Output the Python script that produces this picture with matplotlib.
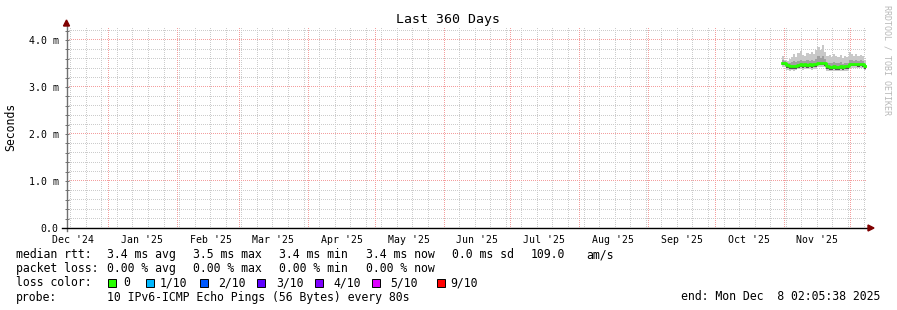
import matplotlib
matplotlib.use("Agg")
import matplotlib.pyplot as plt
import matplotlib.dates as mdates
from matplotlib.patches import Polygon, Rectangle
from datetime import datetime, timedelta
import numpy as np

# ==========================================
# 1. 資料 (ms)
# ==========================================
t_start = datetime(2024, 12, 13, 2, 5, 38)
t_end = datetime(2025, 12, 8, 2, 5, 38)
data_first_day = datetime(2025, 10, 31)

rtt_median = [3.52, 3.52, 3.46, 3.44, 3.45, 3.44, 3.45, 3.47, 3.48, 3.46,
              3.48, 3.47, 3.48, 3.46, 3.48, 3.48, 3.52, 3.52, 3.52, 3.51,
              3.44, 3.43, 3.43, 3.44, 3.43, 3.43, 3.44, 3.43, 3.44, 3.44,
              3.50, 3.50, 3.50, 3.50, 3.49, 3.50, 3.49, 3.45]
rtt_max = [3.66, 3.58, 3.56, 3.60, 3.64, 3.70, 3.64, 3.72, 3.76, 3.68,
           3.66, 3.72, 3.70, 3.74, 3.70, 3.78, 3.86, 3.78, 3.89, 3.74,
           3.66, 3.68, 3.64, 3.70, 3.66, 3.64, 3.68, 3.62, 3.66, 3.64,
           3.74, 3.70, 3.66, 3.70, 3.66, 3.68, 3.66, 3.58]
rtt_hi = [3.58, 3.56, 3.52, 3.52, 3.54, 3.56, 3.54, 3.56, 3.58, 3.55,
          3.56, 3.57, 3.56, 3.58, 3.56, 3.60, 3.66, 3.62, 3.66, 3.60,
          3.52, 3.52, 3.51, 3.53, 3.52, 3.51, 3.53, 3.50, 3.52, 3.52,
          3.58, 3.57, 3.56, 3.58, 3.55, 3.57, 3.55, 3.50]
rtt_lo = [3.46, 3.46, 3.40, 3.38, 3.39, 3.38, 3.39, 3.41, 3.42, 3.40,
          3.42, 3.41, 3.42, 3.40, 3.42, 3.42, 3.46, 3.46, 3.46, 3.45,
          3.38, 3.37, 3.37, 3.38, 3.37, 3.37, 3.38, 3.37, 3.38, 3.38,
          3.44, 3.44, 3.44, 3.44, 3.43, 3.44, 3.43, 3.39]
rtt_min = [3.43, 3.43, 3.37, 3.35, 3.36, 3.35, 3.36, 3.38, 3.39, 3.37,
           3.39, 3.38, 3.39, 3.37, 3.39, 3.39, 3.43, 3.43, 3.43, 3.42,
           3.35, 3.34, 3.34, 3.35, 3.34, 3.34, 3.35, 3.34, 3.35, 3.35,
           3.41, 3.41, 3.41, 3.41, 3.40, 3.41, 3.40, 3.36]

y_ticks = [0, 1, 2, 3, 4]
y_tick_labels = ["0.0", "1.0 m", "2.0 m", "3.0 m", "4.0 m"]

loss_labels = ["0", "1/10", "2/10", "3/10", "4/10", "5/10", "9/10"]
loss_colors = ["#26ff00", "#00b8ff", "#0059ff", "#5e00ff", "#7e00ff", "#dd00ff", "#ff0000"]

# ==========================================
# 2. 版面
# ==========================================
W, H = 897, 310
mono = "DejaVu Sans Mono"

def P(x, y):
    return (x / W, 1 - y / H)

fig = plt.figure(figsize=(W / 100, H / 100), dpi=100)
fig.patch.set_facecolor("white")
ax = fig.add_axes([66.5 / W, 82 / H, 800 / W, 200 / H])
ax.set_xlim(t_start, t_end)
ax.set_ylim(0, 200 / 47)
ax.set_zorder(2)
ax.patch.set_alpha(0)
for s in ax.spines.values():
    s.set_visible(False)

# ==========================================
# 3. 網格: 1px 點線, 以像素圖繪製
# ==========================================
c_grid = np.array([0.80, 0.80, 0.80, 1.0])
c_mgrid = np.array([0.96, 0.62, 0.62, 1.0])
months = [datetime(2025, m, 1) for m in range(1, 13)]
sundays = []
d = datetime(2024, 12, 15)
while d < t_end:
    if d not in months:
        sundays.append(d)
    d += timedelta(days=7)
minor_y = [i * 0.2 for i in range(1, 22) if i % 5 != 0]
major_y = [float(i) for i in range(1, 5)]

grid_img = np.zeros((H, W, 4))
x0_px, x1_px = 67, 866
top_px, bot_px = 28, 227
tr = ax.transData
def col_of(t):
    return int(tr.transform((mdates.date2num(t), 0))[0])
def row_of(v):
    return H - 1 - int(tr.transform((0, v))[1])
for y in minor_y:
    r = row_of(y)
    grid_img[r, x0_px:x1_px:2] = c_grid
for t in sundays:
    c = col_of(t)
    grid_img[top_px:bot_px:2, c] = c_grid
for y in major_y:
    r = row_of(y)
    grid_img[r, x0_px:x1_px:2] = c_mgrid
for t in months:
    c = col_of(t)
    grid_img[top_px:bot_px:2, c] = c_mgrid
fig.figimage(grid_img, xo=0, yo=0, origin="upper", zorder=1)

# smoke + median
days = [data_first_day + timedelta(days=i) for i in range(len(rtt_median) + 1)]
def ext(a):
    return a + [a[-1]]
ax.fill_between(days, ext(rtt_min), ext(rtt_max), step="post", color="#c8c8c8", lw=0, zorder=2)
ax.fill_between(days, ext(rtt_lo), ext(rtt_hi), step="post", color="#a0a0a0", lw=0, zorder=3)
ax.fill_between(days, ext(rtt_lo), ext(rtt_median), step="post", color="#555555", lw=0, zorder=4)
ax.step(days, ext(rtt_median), where="post", color="#26ff00", lw=2.0, zorder=5)

# ticks
ax.set_yticks(y_ticks)
ax.set_yticklabels(y_tick_labels, family=mono, fontsize=7.1)
ax.set_yticks([i * 0.2 for i in range(22)], minor=True)
ax.tick_params(axis="y", which="both", direction="inout", length=3, width=0.7,
               color="#707070", pad=4)
mid_months = [datetime(2024, 12, 16)] + [datetime(2025, m, 16) for m in range(1, 12)]
ax.set_xticks(mid_months)
ax.set_xticklabels([x.strftime("%b '%y") for x in mid_months], family=mono, fontsize=7.1)
ax.tick_params(axis="x", which="major", length=0, pad=5)

# axis lines + arrows
fig.add_artist(plt.Line2D(*zip(P(66.5, 231), P(66.5, 24)), color="#707070", lw=1.0,
                          transform=fig.transFigure, zorder=3))
fig.add_artist(plt.Line2D(*zip(P(62, 228), P(869, 228)), color="black", lw=1.0,
                          transform=fig.transFigure, zorder=3))
fig.add_artist(Polygon([P(63.5, 26), P(69.5, 26), P(66.5, 20)], closed=True,
                       color="#7f0000", transform=fig.transFigure, zorder=3))
fig.add_artist(Polygon([P(868, 225), P(868, 231), P(874, 228)], closed=True,
                       color="#7f0000", transform=fig.transFigure, zorder=3))

# texts
fig.text(*P(448, 19), "Last 360 Days", family=mono, fontsize=9.5, ha="center", va="center")
fig.text(*P(11, 127), "Seconds", family=mono, fontsize=8.3, ha="center", va="center", rotation=90)
fig.text(*P(887, 60), "RRDTOOL / TOBI OETIKER", family=mono, fontsize=6, color="#b8b8b8",
         ha="center", va="center", rotation=270)

fs = 8.3
def txt(x, y, s):
    fig.text(*P(x, y), s, family=mono, fontsize=fs, ha="left", va="center")

txt(16, 254.5, "median rtt:")
txt(107.3, 254.5, "3.4 ms avg")
txt(193.3, 254.5, "3.5 ms max")
txt(279.3, 254.5, "3.4 ms min")
txt(365.7, 254.5, "3.4 ms now")
txt(451.7, 254.5, "0.0 ms sd")
txt(530.7, 254.5, "109.0")
txt(586.7, 254.5, "am/s")

txt(16, 268.5, "packet loss:")
txt(107.3, 268.5, "0.00 % avg")
txt(193.3, 268.5, "0.00 % max")
txt(279.3, 268.5, "0.00 % min")
txt(365.7, 268.5, "0.00 % now")

txt(16, 282.5, "loss color:")
box_x = [108.3, 145.7, 200, 256.7, 315, 371.7, 436.7]
lab_x = [123.3, 160, 218.3, 276, 333.3, 390, 450]
for bx, lx, lab, col in zip(box_x, lab_x, loss_labels, loss_colors):
    x0, y0 = P(bx, 286.5)
    fig.add_artist(Rectangle((x0, y0), 8 / W, 8 / H, facecolor=col, edgecolor="black",
                             lw=0.7, transform=fig.transFigure))
    txt(lx, 282.5, lab)

txt(16, 297, "probe:")
txt(107.3, 297, "10 IPv6-ICMP Echo Pings (56 Bytes) every 80s")
fig.text(*P(880, 297), "end: Mon Dec  8 02:05:38 2025", family=mono, fontsize=fs,
         ha="right", va="center")

fig.savefig("out.png", dpi=100)
